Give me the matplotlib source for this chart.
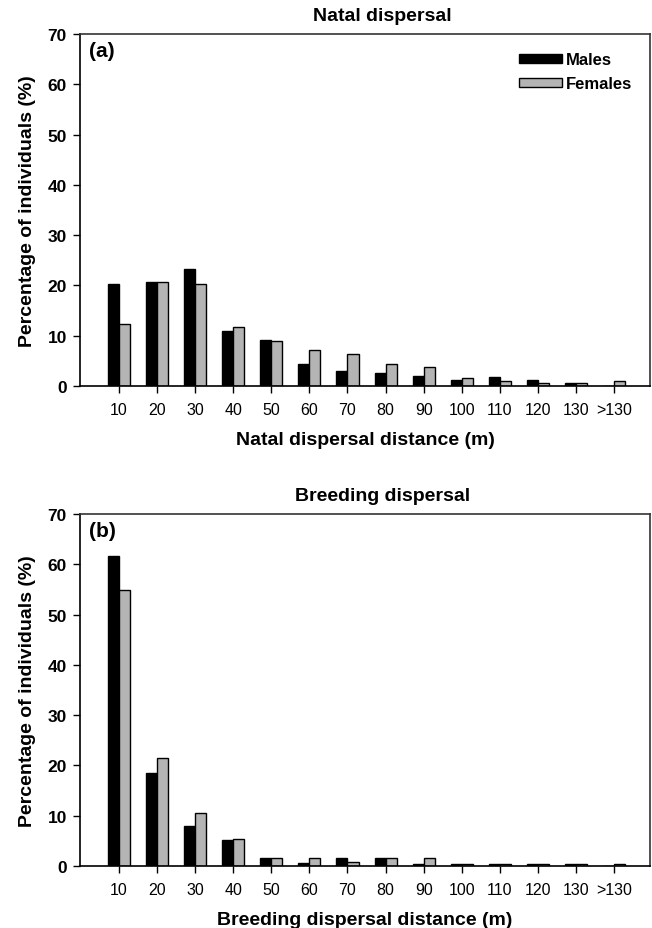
import numpy as np
import matplotlib
matplotlib.use('Agg')
import matplotlib.pyplot as plt

plt.rcParams['font.family'] = ['Liberation Sans', 'DejaVu Sans']

categories = ['10', '20', '30', '40', '50', '60', '70', '80', '90',
              '100', '110', '120', '130', '>130']

# Panel (a): natal dispersal (% of individuals)
natal_males = [20.2, 20.7, 23.2, 10.9, 9.1, 4.4, 3.0, 2.5, 2.0, 1.25, 1.7, 1.25, 0.5, 0.0]
natal_females = [12.3, 20.7, 20.2, 11.8, 8.9, 7.1, 6.4, 4.4, 3.7, 1.5, 1.0, 0.5, 0.5, 1.0]

# Panel (b): breeding dispersal (% of individuals)
breed_males = [61.7, 18.5, 7.9, 5.2, 1.5, 0.5, 1.5, 1.5, 0.3, 0.3, 0.3, 0.3, 0.3, 0.0]
breed_females = [54.8, 21.4, 10.6, 5.4, 1.5, 1.5, 0.7, 1.5, 1.5, 0.3, 0.3, 0.3, 0.3, 0.3]

W, H = 652, 929
fig = plt.figure(figsize=(W / 100, H / 100), dpi=100)

GREY = '#b4b4b4'
BW = 0.29


def draw_panel(ax, males, females, title, xlabel, tag, legend=False):
    x = np.arange(len(categories))
    ax.bar(x - BW / 2, males, width=BW, color='black', edgecolor='black',
           linewidth=1.0, label='Males')
    ax.bar(x + BW / 2, females, width=BW, color=GREY, edgecolor='black',
           linewidth=1.0, label='Females')
    ax.set_xlim(-1.02, 13.94)
    ax.set_ylim(0, 70)
    ax.set_yticks(range(0, 71, 10))
    ax.set_xticks(x)
    ax.set_xticklabels(categories, fontsize=11.5)
    for lab in ax.get_yticklabels():
        lab.set_fontweight('bold')
        lab.set_fontsize(12.5)
    ax.tick_params(axis='both', direction='out', length=5, width=1.0, colors='black')
    ax.tick_params(axis='x', pad=6.5)
    ax.tick_params(axis='y', pad=4.5)
    for s in ['left', 'bottom']:
        ax.spines[s].set_linewidth(1.2)
        ax.spines[s].set_color('black')
    for s in ['top', 'right']:
        ax.spines[s].set_linewidth(1.2)
        ax.spines[s].set_color('#333333')
    ax.set_ylabel('Percentage of individuals (%)', fontsize=14, fontweight='bold', labelpad=8)
    ax.set_xlabel(xlabel, fontsize=14, fontweight='bold', labelpad=10)
    ax.set_title(title, fontsize=14, fontweight='bold', x=0.53, pad=10)
    ax.text(0.016, 0.952, tag, transform=ax.transAxes, fontsize=15,
            fontweight='bold', ha='left', va='center')
    if legend:
        ax.legend(loc='upper right', bbox_to_anchor=(1.0, 1.0), frameon=False,
                  handlelength=2.6, handleheight=0.48, handletextpad=0.2,
                  labelspacing=0.55, borderaxespad=0.7,
                  prop={'weight': 'bold', 'size': 12})


ax_a = fig.add_axes([80 / W, (H - 387) / H, 570 / W, 352 / H])
ax_b = fig.add_axes([80 / W, (H - 867) / H, 570 / W, 352 / H])

draw_panel(ax_a, natal_males, natal_females, 'Natal dispersal',
           'Natal dispersal distance (m)', '(a)', legend=True)
draw_panel(ax_b, breed_males, breed_females, 'Breeding dispersal',
           'Breeding dispersal distance (m)', '(b)')

fig.savefig('out.png', dpi=100)
